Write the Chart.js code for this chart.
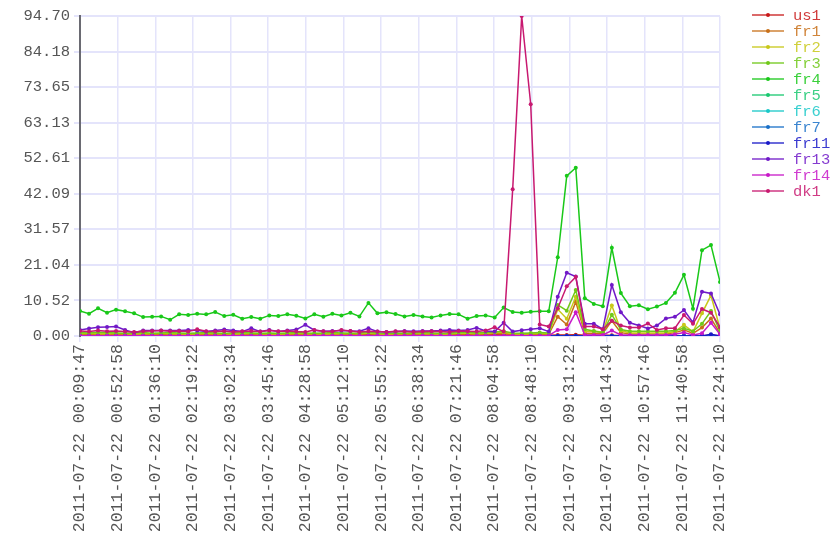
<!DOCTYPE html>
<html>
<head>
<meta charset="utf-8">
<script src="https://cdn.jsdelivr.net/npm/chart.js@4.4.0/dist/chart.umd.min.js"></script>
<style>
  body { margin: 0; background: #fff; }
  #wrap { width: 840px; height: 560px; }
</style>
</head>
<body>
<div id="wrap"><canvas id="myChart" width="840" height="560"></canvas></div>
<script>
const seriesNames = ["us1", "fr1", "fr2", "fr3", "fr4", "fr5", "fr6", "fr7", "fr11", "fr13", "fr14", "dk1"];

const xTickLabels = [
  "2011-07-22 00:09:47", "2011-07-22 00:52:58", "2011-07-22 01:36:10", "2011-07-22 02:19:22",
  "2011-07-22 03:02:34", "2011-07-22 03:45:46", "2011-07-22 04:28:58", "2011-07-22 05:12:10",
  "2011-07-22 05:55:22", "2011-07-22 06:38:34", "2011-07-22 07:21:46", "2011-07-22 08:04:58",
  "2011-07-22 08:48:10", "2011-07-22 09:31:22", "2011-07-22 10:14:34", "2011-07-22 10:57:46",
  "2011-07-22 11:40:58", "2011-07-22 12:24:10"
];
const yTicks = [0, 10.52, 21.04, 31.57, 42.09, 52.61, 63.13, 73.65, 84.18, 94.70];

// 72 samples per series
const us1 = [0.4, 0.3, 0.4, 0.3, 0.3, 0.4, 0.3, 0.3, 0.4, 0.3, 0.3, 0.4, 0.3, 0.4, 0.3, 0.3, 0.4, 0.3, 0.3, 0.4,
  0.3, 0.3, 0.4, 0.3, 0.3, 0.4, 0.3, 0.3, 0.4, 0.3, 0.3, 0.4, 0.3, 0.3, 0.3, 0.4, 0.3, 0.3, 0.4, 0.3,
  0.3, 0.4, 0.3, 0.3, 0.4, 0.3, 0.4, 0.3, 0.3, 0.2, 0.2, 0.2, 0.2, 0.3, 0.3, 0.4, 0.2, 0.2, 0.2, 0.2,
  0.1, 0.1, 0.1, 0.1, 0.1, 0.1, 0.1, 0.1, 0.1, 0.1, 0.2, 0.1];
const fr1 = [0.5, 0.6, 0.5, 0.6, 0.5, 0.5, 0.4, 0.5, 0.6, 0.5, 0.5, 0.6, 0.5, 0.5, 0.6, 0.5, 0.4, 0.5, 0.5, 0.6,
  0.5, 0.5, 0.6, 0.5, 0.5, 0.4, 0.5, 0.5, 0.6, 0.5, 0.5, 0.4, 0.6, 0.5, 0.5, 0.5, 0.4, 0.5, 0.5, 0.6,
  0.5, 0.5, 0.6, 0.5, 0.5, 0.6, 0.7, 0.8, 0.5, 0.4, 0.5, 0.6, 0.5, 5.7, 3.4, 10.1, 0.8, 0.8, 0.8, 4.5,
  1.0, 0.6, 0.6, 0.6, 0.6, 0.6, 1.0, 1.8, 0.8, 2.5, 5.2, 0.8];
const fr2 = [0.7, 0.8, 0.7, 0.7, 0.8, 0.7, 0.6, 0.7, 0.7, 0.8, 0.7, 0.7, 0.6, 0.7, 0.8, 0.7, 0.7, 0.6, 0.7, 0.8,
  0.7, 0.7, 0.6, 0.7, 0.8, 0.7, 0.7, 0.6, 0.7, 0.7, 0.8, 0.7, 0.9, 0.7, 0.6, 0.7, 0.7, 0.8, 0.7, 0.7,
  0.6, 0.7, 0.8, 0.9, 0.7, 0.8, 1.0, 1.1, 0.7, 0.6, 0.7, 0.8, 0.7, 7.9, 5.1, 11.6, 1.4, 1.4, 1.2, 9.0,
  1.6, 0.9, 0.9, 0.9, 0.9, 0.9, 1.3, 3.3, 1.2, 6.7, 12.0, 2.2];
const fr3 = [1.0, 0.9, 1.1, 1.0, 0.9, 0.8, 0.9, 1.0, 0.8, 0.9, 1.0, 0.9, 0.8, 0.9, 1.0, 0.9, 0.8, 0.9, 1.0, 0.9,
  0.8, 0.9, 0.8, 0.9, 1.0, 0.9, 0.8, 0.9, 1.0, 0.9, 0.8, 0.9, 1.1, 0.9, 0.8, 0.9, 0.8, 0.9, 1.0, 0.9,
  0.8, 0.9, 1.0, 1.1, 0.9, 1.0, 1.2, 1.4, 0.9, 0.8, 0.9, 1.0, 0.9, 9.2, 7.5, 13.6, 2.0, 1.5, 1.0, 6.3,
  1.9, 1.4, 1.4, 1.4, 1.4, 1.4, 1.6, 2.3, 1.4, 3.6, 7.4, 1.4];
const fr4 = [7.4, 6.6, 8.2, 6.9, 7.8, 7.3, 6.7, 5.6, 5.7, 5.8, 4.8, 6.4, 6.2, 6.6, 6.4, 7.1, 5.9, 6.3, 5.1, 5.6,
  5.1, 6.1, 5.9, 6.4, 6.0, 5.2, 6.4, 5.7, 6.6, 6.1, 6.9, 5.8, 9.8, 6.7, 7.0, 6.5, 5.8, 6.2, 5.8, 5.5,
  6.1, 6.5, 6.4, 5.1, 5.9, 6.1, 5.5, 8.4, 7.1, 6.9, 7.2, 7.3, 7.3, 23.3, 47.4, 49.8, 11.2, 9.5, 8.8, 26.1,
  12.7, 8.8, 9.1, 7.9, 8.7, 9.8, 12.8, 18.1, 8.1, 25.4, 26.9, 16.0];
const fr5 = [0, 0, 0, 0, 0, 0, 0, 0, 0, 0, 0, 0, 0, 0, 0, 0, 0, 0, 0, 0,
  0, 0, 0, 0, 0, 0, 0, 0, 0, 0, 0, 0, 0, 0, 0, 0, 0, 0, 0, 0,
  0, 0, 0, 0, 0, 0, 0, 0, 0, 0, 0, 0, 0, 0, 0, 0, 0, 0, 0, 0,
  0, 0, 0, 0, 0, 0, 0, 0, 0, 0, 0, 0];
const fr6 = [0, 0, 0, 0, 0, 0, 0, 0, 0, 0, 0, 0, 0, 0, 0, 0, 0, 0, 0, 0,
  0, 0, 0, 0, 0, 0, 0, 0, 0, 0, 0, 0, 0, 0, 0, 0, 0, 0, 0, 0,
  0, 0, 0, 0, 0, 0, 0, 0, 0, 0, 0, 0, 0, 0, 0, 0, 0, 0, 0, 0,
  0, 0, 0, 0, 0, 0, 0, 0, 0, 0, 0, 0];
const fr7 = [0, 0, 0, 0, 0, 0, 0, 0, 0, 0, 0, 0, 0, 0, 0, 0, 0, 0, 0, 0,
  0, 0, 0, 0, 0, 0, 0, 0, 0, 0, 0, 0, 0, 0, 0, 0, 0, 0, 0, 0,
  0, 0, 0, 0, 0, 0, 0, 0, 0, 0, 0, 0, 0, 0, 0, 0, 0, 0, 0, 0,
  0, 0, 0, 0, 0, 0, 0, 0, 0, 0, 0, 0];
const fr11 = [0, 0, 0, 0, 0, 0, 0, 0, 0, 0, 0, 0, 0, 0, 0, 0, 0, 0, 0, 0,
  0, 0, 0, 0, 0, 0, 0, 0, 0, 0, 0, 0, 0, 0, 0, 0, 0, 0, 0, 0,
  0, 0, 0, 0, 0, 0, 0, 0, 0, 0, 0, 0, 0, 0, 0, 0, 0, 0, 0, 0,
  0, 0, 0, 0, 0, 0, 0, 0, 0, 0, 0.5, 0];
const fr13 = [1.8, 2.2, 2.6, 2.7, 2.8, 1.8, 1.0, 1.6, 1.6, 1.6, 1.6, 1.6, 1.8, 1.6, 1.3, 1.6, 1.9, 1.6, 1.3, 2.3,
  1.3, 1.8, 1.3, 1.6, 1.9, 3.3, 1.7, 1.4, 1.5, 1.6, 1.5, 1.4, 2.3, 1.3, 1.2, 1.3, 1.5, 1.4, 1.5, 1.5,
  1.6, 1.8, 1.6, 1.8, 2.4, 1.5, 1.3, 3.9, 1.3, 1.7, 2.0, 2.3, 1.3, 11.6, 18.7, 17.6, 3.6, 3.6, 2.0, 15.1,
  7.0, 3.9, 3.1, 2.2, 3.1, 5.2, 5.7, 7.7, 4.0, 13.1, 12.6, 6.4];
const fr14 = [0.1, 0.1, 0.1, 0.1, 0.1, 0.1, 0.1, 0.1, 0.1, 0.1, 0.1, 0.1, 0.1, 0.1, 0.1, 0.1, 0.1, 0.1, 0.1, 0.1,
  0.1, 0.1, 0.1, 0.1, 0.1, 0.1, 0.1, 0.1, 0.1, 0.1, 0.1, 0.1, 0.1, 0.1, 0.1, 0.1, 0.1, 0.1, 0.1, 0.1,
  0.1, 0.1, 0.1, 0.1, 0.1, 0.1, 0.1, 0.1, 0.1, 0.1, 0.1, 0.1, 0.1, 1.8, 2.0, 7.0, 0.3, 0.3, 0.3, 1.6,
  0.3, 0.3, 0.3, 0.3, 0.3, 0.3, 0.5, 1.0, 0.3, 0.8, 3.9, 0.5];
const dk1 = [1.5, 1.3, 1.6, 1.4, 1.5, 1.3, 1.2, 1.4, 1.5, 1.6, 1.4, 1.5, 1.3, 2.0, 1.4, 1.3, 1.5, 1.2, 1.4, 1.5,
  1.3, 1.6, 1.4, 1.5, 1.3, 1.2, 1.8, 1.4, 1.3, 1.8, 1.5, 1.2, 1.4, 1.3, 1.2, 1.4, 1.3, 1.2, 1.3, 1.4,
  1.3, 1.2, 1.5, 1.4, 1.3, 1.6, 2.6, 1.3, 43.4, 94.7, 68.6, 3.4, 2.8, 8.2, 14.7, 17.5, 2.8, 2.8, 2.0, 4.5,
  3.1, 2.5, 2.5, 3.7, 1.8, 2.3, 2.3, 6.2, 3.6, 8.0, 6.9, 2.6];

const seriesValues = [us1, fr1, fr2, fr3, fr4, fr5, fr6, fr7, fr11, fr13, fr14, dk1];

const monoFont = "'Liberation Mono', 'DejaVu Sans Mono', monospace";
const colorFor = (i) => `hsl(${i * 30}, 78%, 44%)`;
const lastIndex = fr4.length - 1;

// legend on the right, line + dot + coloured name
const sideLegend = {
  id: "sideLegend",
  afterDraw(chart) {
    const c = chart.ctx;
    c.save();
    c.font = "15.5px " + monoFont;
    c.textBaseline = "middle";
    chart.data.datasets.forEach((ds, i) => {
      const y = 15 + i * 16;
      c.globalAlpha = 0.65;
      c.strokeStyle = ds.borderColor;
      c.lineWidth = 2;
      c.beginPath();
      c.moveTo(752, y);
      c.lineTo(784, y);
      c.stroke();
      c.globalAlpha = 1;
      c.fillStyle = ds.borderColor;
      c.beginPath();
      c.arc(768, y, 2, 0, Math.PI * 2);
      c.fill();
      c.globalAlpha = 0.85;
      c.fillText(ds.label, 793, y + 1);
      c.globalAlpha = 1;
    });
    c.restore();
  },
};

const ctx = document.getElementById("myChart").getContext("2d");
const myChart = new Chart(ctx, {
  type: "line",
  data: {
    datasets: seriesNames.map((name, i) => ({
      label: name,
      data: seriesValues[i].map((v, j) => ({ x: j, y: v })),
      borderColor: colorFor(i),
      backgroundColor: colorFor(i),
      borderWidth: 1.5,
      pointRadius: 2,
      pointHoverRadius: 2,
      pointBorderWidth: 0,
      tension: 0,
      fill: false,
      order: seriesNames.length - i, // dk1 ends up on top
    })),
  },
  options: {
    responsive: false,
    animation: false,
    layout: { padding: { top: 16, right: 120, left: 0, bottom: 0 } },
    plugins: {
      legend: { display: false },
      tooltip: { enabled: false },
    },
    scales: {
      x: {
        type: "linear",
        min: 0,
        max: lastIndex,
        afterBuildTicks: (scale) => {
          scale.ticks = xTickLabels.map((l, k) => ({ value: (k * lastIndex) / (xTickLabels.length - 1) }));
        },
        afterFit: (scale) => {
          scale.height = 224;
        },
        ticks: {
          autoSkip: false,
          minRotation: 90,
          maxRotation: 90,
          padding: 2,
          color: "#555",
          font: { family: monoFont, size: 16.5 },
          callback: (value, index) => xTickLabels[index],
        },
        grid: { color: "#e4e4fb", lineWidth: 1.5, tickLength: 6 },
        border: { display: false },
      },
      y: {
        min: 0,
        max: yTicks[yTicks.length - 1],
        afterBuildTicks: (scale) => {
          scale.ticks = yTicks.map((v) => ({ value: v }));
        },
        afterFit: (scale) => {
          scale.width = 80;
        },
        ticks: {
          padding: 4,
          color: "#555",
          font: { family: monoFont, size: 15.5 },
          callback: (value) => Number(value).toFixed(2),
        },
        grid: { color: "#e4e4fb", lineWidth: 2, tickLength: 6 },
        border: { color: "#6a6a72", width: 2 },
      },
    },
  },
  plugins: [sideLegend],
});
</script>
</body>
</html>
